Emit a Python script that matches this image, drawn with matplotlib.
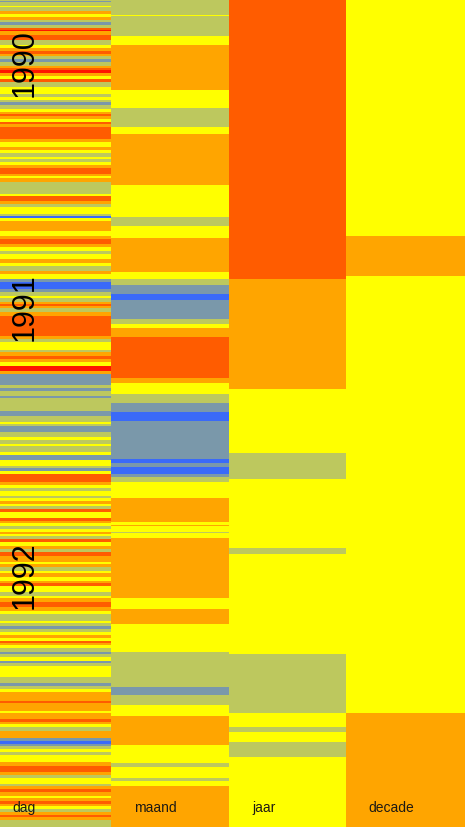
import matplotlib

matplotlib.use("Agg")
import matplotlib.pyplot as plt
import numpy as np

# colour classes (cold -> warm)
CLASS_COLORS = {
    "b": "#3a6af8",   # veel te koud
    "s": "#7a98aa",
    "g": "#bdc85e",
    "y": "#ffff00",
    "o": "#ffa500",
    "r": "#ff5c00",
    "d": "#ff1500",   # veel te warm
}

COLUMNS = ["dag", "maand", "jaar", "decade"]
YEARS = ["1990", "1991", "1992"]
YEAR_POS = [63, 307, 575]          # centre of each year label, in time units

# runs of (class, length) from top to bottom, time units
DAG_RUNS = [
    ("g", 2), ("s", 1), ("g", 4), ("y", 1), ("g", 4), ("o", 3), ("y", 3), ("o", 3),
    ("g", 2), ("s", 3), ("g", 3), ("r", 2), ("d", 1), ("o", 4), ("r", 5), ("g", 5),
    ("y", 3), ("o", 3), ("r", 3), ("o", 2), ("g", 3), ("s", 3), ("g", 4), ("o", 2),
    ("r", 2), ("d", 3), ("o", 3), ("y", 3), ("r", 3), ("g", 5), ("y", 7), ("g", 3),
    ("y", 3), ("g", 2), ("s", 3), ("g", 4), ("y", 3), ("o", 2), ("r", 2), ("o", 3),
    ("y", 3), ("r", 2), ("o", 3), ("r", 12),
    # 140
    ("o", 3), ("y", 5), ("o", 3), ("y", 3), ("g", 4), ("y", 2), ("g", 3), ("y", 3),
    ("o", 3), ("r", 6), ("o", 2), ("y", 2), ("o", 4), ("g", 12), ("y", 2), ("r", 5),
    ("o", 3), ("g", 3), ("y", 7), ("g", 2), ("b", 2), ("y", 3), ("o", 10), ("y", 5),
    ("o", 3), ("r", 5), ("o", 3), ("y", 4), ("g", 3), ("y", 5), ("o", 4), ("y", 3),
    ("g", 5), ("o", 3), ("y", 5),
    # 280
    ("s", 3), ("b", 7), ("s", 3), ("g", 4), ("y", 2), ("g", 4), ("o", 2), ("r", 2),
    ("o", 2), ("g", 4), ("o", 4), ("r", 20), ("o", 3), ("g", 3), ("y", 8), ("g", 2),
    ("o", 4), ("r", 3), ("o", 3), ("y", 4), ("d", 5), ("o", 3), ("s", 11), ("g", 3),
    ("s", 3), ("g", 5), ("s", 2), ("g", 13), ("s", 5), ("g", 3),
    # 420
    ("g", 3), ("y", 2), ("g", 2), ("s", 6), ("g", 5), ("y", 3), ("g", 4), ("y", 2),
    ("g", 6), ("y", 3), ("s", 5), ("y", 6), ("g", 2), ("s", 3), ("y", 3), ("r", 8),
    ("o", 3), ("y", 3), ("g", 3), ("y", 5), ("g", 2), ("y", 3), ("o", 3), ("y", 2),
    ("g", 3), ("r", 3), ("y", 6), ("r", 3), ("o", 2), ("y", 3), ("g", 3), ("y", 3),
    ("o", 2), ("y", 2), ("g", 3), ("r", 3), ("y", 4), ("o", 3), ("g", 3), ("r", 4),
    ("o", 3),
    # 560
    ("o", 3), ("y", 2), ("o", 3), ("g", 4), ("y", 2), ("o", 4), ("y", 4), ("o", 2),
    ("r", 3), ("y", 6), ("g", 4), ("y", 2), ("o", 4), ("r", 5), ("o", 4), ("y", 3),
    ("g", 7), ("y", 2), ("g", 3), ("s", 3), ("g", 3), ("y", 3), ("o", 3), ("y", 3),
    ("r", 2), ("o", 2), ("y", 3), ("g", 4), ("s", 2), ("g", 3), ("y", 4), ("s", 2),
    ("g", 3), ("y", 11), ("g", 6), ("s", 3), ("g", 3), ("y", 3), ("o", 7),
    # 700
    ("o", 2), ("r", 2), ("o", 8), ("y", 2), ("o", 6), ("r", 3), ("o", 2), ("y", 3),
    ("g", 4), ("o", 7), ("s", 3), ("b", 3), ("s", 2), ("g", 3), ("y", 3), ("g", 3),
    ("y", 7), ("o", 4), ("r", 6), ("o", 3), ("g", 3), ("y", 6), ("g", 2), ("o", 3),
    ("r", 3), ("o", 4), ("y", 2), ("o", 3), ("r", 3), ("o", 2), ("y", 3), ("g", 3),
    ("o", 3), ("r", 2), ("o", 3), ("g", 7),
]

MAAND_RUNS = [
    ("g", 16), ("y", 1), ("g", 20), ("y", 9), ("o", 45), ("y", 18), ("g", 19), ("y", 7),
    ("o", 51), ("y", 32), ("g", 9), ("y", 12), ("o", 34), ("y", 7), ("g", 6), ("s", 9),
    ("b", 6), ("s", 19), ("g", 5), ("y", 4), ("o", 9), ("r", 41), ("o", 5), ("y", 11),
    ("g", 9), ("s", 9), ("b", 9), ("s", 38), ("b", 4), ("s", 4), ("b", 7), ("s", 3),
    ("g", 5), ("y", 16), ("o", 24), ("y", 3), ("o", 1), ("y", 6), ("g", 1), ("y", 5),
    ("o", 60), ("y", 11), ("o", 15), ("y", 28), ("g", 35), ("s", 8), ("g", 10), ("y", 11),
    ("o", 29), ("y", 18), ("g", 4), ("y", 11), ("g", 3), ("y", 5), ("o", 41),
]

JAAR_RUNS = [
    ("r", 280), ("o", 110), ("y", 64), ("g", 26), ("y", 69), ("g", 6), ("y", 100),
    ("g", 59), ("y", 14), ("g", 5), ("y", 10), ("g", 15), ("y", 70),
]

DECADE_RUNS = [("y", 237), ("o", 40), ("y", 437), ("o", 114)]

ALL_RUNS = [DAG_RUNS, MAAND_RUNS, JAAR_RUNS, DECADE_RUNS]

# layout
COL_EDGES = [0, 111, 229, 346, 465]
LABEL_OFFSET = [12, 23, 23, 22]
TOTAL = 828

fig = plt.figure(figsize=(4.65, 8.28), dpi=100)
ax = fig.add_axes([0, 0, 1, 1])

for i, runs in enumerate(ALL_RUNS):
    lengths = np.array([n for _, n in runs], dtype=float)
    bottoms = np.concatenate([[0], np.cumsum(lengths)[:-1]])
    colors = [CLASS_COLORS[c] for c, _ in runs]
    ax.bar(np.full(len(runs), COL_EDGES[i]), lengths, bottom=bottoms,
           width=COL_EDGES[i + 1] - COL_EDGES[i], align="edge",
           color=colors, linewidth=0, antialiased=False)

for year, ypos in zip(YEARS, YEAR_POS):
    ax.text(25, ypos, year, rotation=90, ha="center", va="center",
            fontsize=22, family="Liberation Sans", color="black")

for i, name in enumerate(COLUMNS):
    ax.text(COL_EDGES[i] + LABEL_OFFSET[i], 808, name, ha="left", va="center",
            fontsize=10, family="Liberation Sans", color="#1e1a14")

ax.set_xlim(0, COL_EDGES[-1])
ax.set_ylim(TOTAL, 0)
ax.axis("off")

fig.savefig("out.png", dpi=100)
